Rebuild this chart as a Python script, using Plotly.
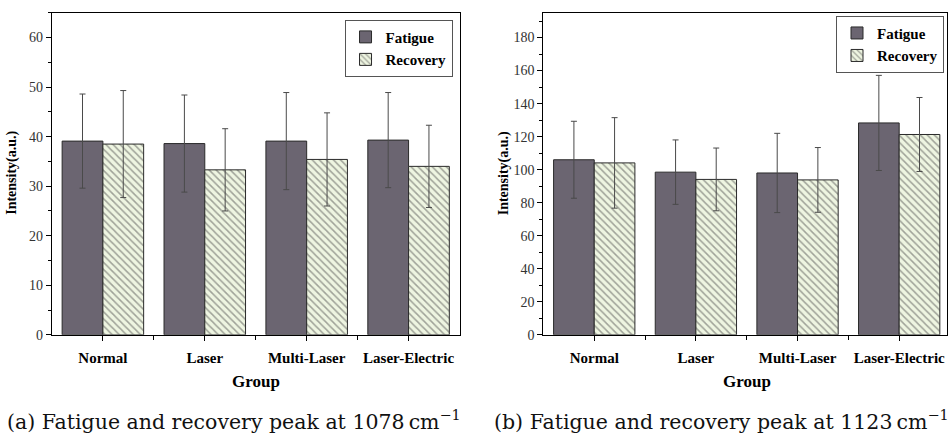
import plotly.graph_objects as go

# Groups and measured peak intensities (mean ± SD)
groups = ["Normal", "Laser", "Multi-Laser", "Laser-Electric"]

# Peak at 1078 cm^-1
fatigue_1078 = [39.1, 38.6, 39.1, 39.3]
fatigue_1078_sd = [9.5, 9.8, 9.8, 9.6]
recovery_1078 = [38.5, 33.3, 35.4, 34.0]
recovery_1078_sd = [10.8, 8.3, 9.4, 8.3]

# Peak at 1123 cm^-1
fatigue_1123 = [106.0, 98.5, 98.0, 128.3]
fatigue_1123_sd = [23.3, 19.5, 24.0, 28.8]
recovery_1123 = [104.1, 94.1, 93.8, 121.3]
recovery_1123_sd = [27.4, 19.0, 19.6, 22.4]

captions = ["(a) Fatigue and recovery peak at 1078\u2009cm<sup>\u22121</sup>",
            "(b) Fatigue and recovery peak at 1123\u2009cm<sup>\u22121</sup>"]

W, H = 948, 442
SERIF = "Liberation Serif"
CAPTION_FONT = "DejaVu Serif"
FATIGUE_COLOR = "#6b6571"
RECOVERY_BG = "#eef5e1"
HATCH = "#4f4f4f"
EDGE = "#2a2a2a"
ERR = "#4a4a4a"

x_pos = list(range(len(groups)))


def px_x(v):
    return v / W


def px_y(v):
    return 1 - v / H


fig = go.Figure()

panels = [
    dict(f=fatigue_1078, fsd=fatigue_1078_sd, r=recovery_1078, rsd=recovery_1078_sd,
         xa="x", ya="y", legend="legend"),
    dict(f=fatigue_1123, fsd=fatigue_1123_sd, r=recovery_1123, rsd=recovery_1123_sd,
         xa="x2", ya="y2", legend="legend2"),
]

for p in panels:
    fig.add_trace(go.Bar(
        x=x_pos, y=p["f"], name="Fatigue", xaxis=p["xa"], yaxis=p["ya"],
        legend=p["legend"], offsetgroup="f",
        marker=dict(color=FATIGUE_COLOR, line=dict(color=EDGE, width=1)),
        error_y=dict(type="data", array=p["fsd"], color=ERR, thickness=1, width=3),
    ))
    fig.add_trace(go.Bar(
        x=x_pos, y=p["r"], name="Recovery", xaxis=p["xa"], yaxis=p["ya"],
        legend=p["legend"], offsetgroup="r",
        marker=dict(color=RECOVERY_BG, line=dict(color=EDGE, width=1),
                    pattern=dict(shape="\\", fgcolor=HATCH, bgcolor=RECOVERY_BG,
                                 size=5, solidity=0.3)),
        error_y=dict(type="data", array=p["rsd"], color=ERR, thickness=1, width=3),
    ))

y_bottom, y_top = 341, 13
ydom = [px_y(y_bottom), px_y(y_top)]

common_x = dict(
    tickmode="array", tickvals=x_pos, ticktext=[f"<b>{g}</b>" for g in groups],
    ticks="outside", ticklen=5, tickwidth=1, tickcolor="black",
    minor=dict(tickvals=[0.5, 1.5, 2.5], ticks="outside", ticklen=4, tickcolor="black"),
    showline=True, linecolor="black", linewidth=1.3, mirror=True,
    showgrid=False, zeroline=False, ticklabelstandoff=4,
    tickfont=dict(family=SERIF, size=15, color="black"),
)
common_y = dict(
    ticks="outside", ticklen=5, tickwidth=1, tickcolor="black",
    showline=True, linecolor="black", linewidth=1.3, mirror=True,
    showgrid=False, zeroline=False,
    tickfont=dict(family=SERIF, size=14, color="#333333"),
)

legend_style = dict(
    xanchor="right", yanchor="top",
    bgcolor="white", bordercolor="#555555", borderwidth=1,
    font=dict(family=SERIF, size=15, color="black", weight="bold"),
    tracegroupgap=2, itemwidth=30,
)

fig.update_layout(
    width=W, height=H,
    margin=dict(l=0, r=0, t=0, b=0),
    paper_bgcolor="white", plot_bgcolor="white",
    barmode="group", bargap=0.2, bargroupgap=0,
    xaxis=dict(domain=[px_x(52), px_x(460)], range=[-0.5, 3.5], anchor="y", **common_x),
    yaxis=dict(domain=ydom, range=[0, 65], dtick=10, anchor="x",
               minor=dict(dtick=5, ticks="outside", ticklen=3, tickcolor="black"),
               **common_y),
    xaxis2=dict(domain=[px_x(544), 1.0], range=[-0.5, 3.5 - 3 / 101.7], anchor="y2", **common_x),
    yaxis2=dict(domain=ydom, range=[0, 195], dtick=20, anchor="x2",
                minor=dict(dtick=10, ticks="outside", ticklen=3, tickcolor="black"),
                **common_y),
    legend=dict(x=px_x(453), y=px_y(20), **legend_style),
    legend2=dict(x=px_x(945), y=px_y(16), **legend_style),
)

annotations = []
# Axis titles
for xc, xg in [(12, 256), (504, 748)]:
    annotations.append(dict(
        text="<b>Intensity(a.u.)</b>", x=px_x(xc), y=px_y(176), xref="paper", yref="paper",
        textangle=-90, showarrow=False, xanchor="center", yanchor="middle",
        font=dict(family=SERIF, size=14, color="black")))
    annotations.append(dict(
        text="<b>Group</b>", x=px_x(xg), y=px_y(389), xref="paper", yref="paper",
        showarrow=False, xanchor="center", yanchor="middle",
        font=dict(family=SERIF, size=17, color="black")))

# Sub-figure captions
for xc, cap in zip([234, 722], captions):
    annotations.append(dict(
        text=cap, x=px_x(xc), y=px_y(428), xref="paper", yref="paper",
        showarrow=False, xanchor="center", yanchor="middle",
        font=dict(family=CAPTION_FONT, size=20.5, color="#111111")))

fig.update_layout(annotations=annotations)

fig.write_html("out.html")
